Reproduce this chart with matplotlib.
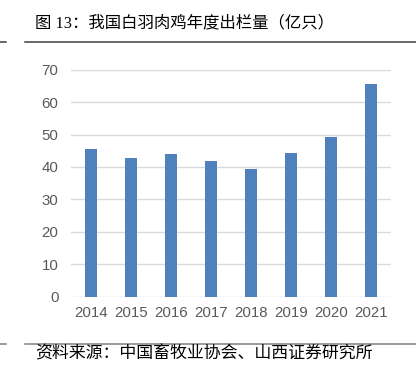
import matplotlib
matplotlib.use("Agg")
import matplotlib.pyplot as plt
from matplotlib.lines import Line2D

years = ["2014", "2015", "2016", "2017", "2018", "2019", "2020", "2021"]
values = [45.5, 42.9, 44.0, 41.9, 39.4, 44.2, 49.2, 65.5]
yticks = [0, 10, 20, 30, 40, 50, 60, 70]

W, H = 416, 377
fig = plt.figure(figsize=(W / 100, H / 100), dpi=100)
ax = fig.add_axes([71 / W, 1 - 296.7 / H, 320 / W, 227 / H])

x = list(range(len(years)))
ax.bar(x, values, width=0.31, color="#4f81bd", zorder=3)
ax.set_xlim(-0.5, len(years) - 0.5)
ax.set_ylim(0, 70)
ax.set_yticks(yticks)
ax.set_xticks(x)
ax.set_xticklabels(years)
ax.grid(axis="y", color="#d9d9d9", linewidth=1.0, zorder=0)
for s in ax.spines.values():
    s.set_visible(False)
ax.tick_params(axis="both", length=0, labelsize=10.8, labelcolor="#595959")
ax.tick_params(axis="y", pad=9)
ax.tick_params(axis="x", pad=7)
for lab in ax.get_xticklabels() + ax.get_yticklabels():
    lab.set_fontfamily("Liberation Sans")

title = fig.text(35 / W, 1 - 23 / H, "图 13：我国白羽肉鸡年度出栏量（亿只）", fontsize=11.8,
                 family=["Liberation Serif", "Noto Sans CJK SC"], va="center", ha="left", color="#000000")
fig.text(35 / W, 1 - 353 / H, "资料来源：中国畜牧业协会、山西证券研究所", fontsize=12.2,
         family=["Noto Sans CJK SC", "DejaVu Sans"], va="center", ha="left", color="#000000")

y1 = 1 - 41.7 / H
fig.add_artist(Line2D([0, 6 / W], [y1, y1], color="#404040", linewidth=1.1))
fig.add_artist(Line2D([25 / W, 1], [y1, y1], color="#404040", linewidth=1.1))
y2 = 1 - 344 / H
fig.add_artist(Line2D([0, 6 / W], [y2, y2], color="#808080", linewidth=1.1))
fig.add_artist(Line2D([25 / W, 1], [y2, y2], color="#808080", linewidth=1.1))

fig.savefig("out.png", dpi=100)
